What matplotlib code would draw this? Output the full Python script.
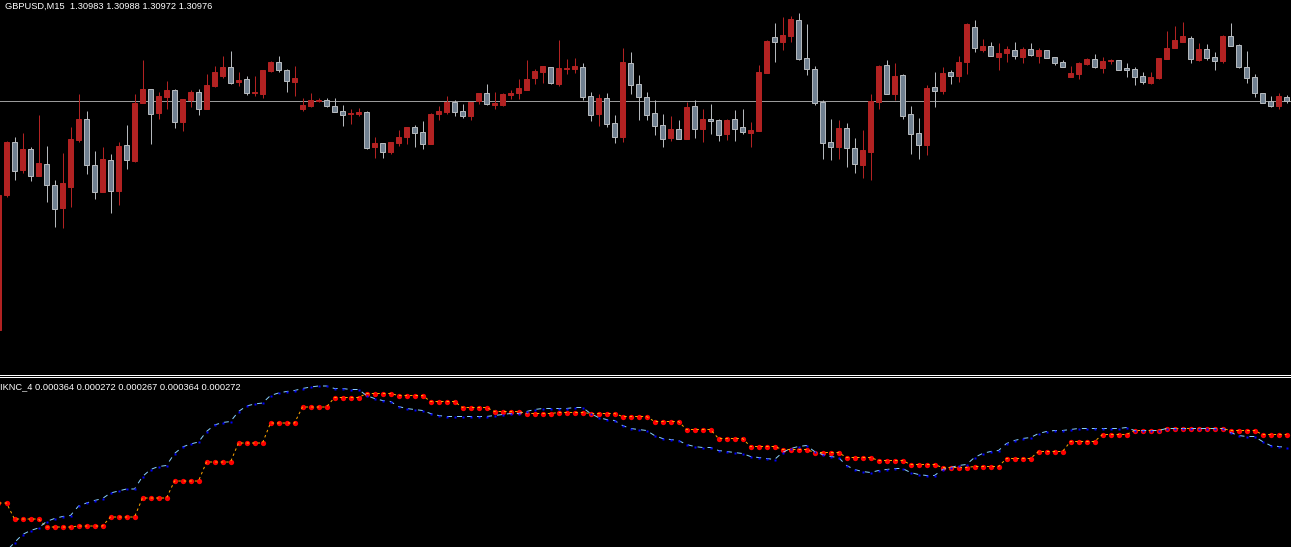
import matplotlib
matplotlib.use('Agg')
import matplotlib.pyplot as plt
from matplotlib.lines import Line2D
import numpy as np

# Свічки GBPUSD M15, ціни в пунктах (1 пункт = 0.00001)
opens = [130518, 130788, 130894, 130838, 130880, 130826, 130850, 130808, 130762, 130804,
         130898, 130940, 130848, 130794, 130858, 130796, 130888, 130856, 130972, 131000,
         130952, 130984, 130998, 130934, 130978, 130994, 130960, 131006, 131026, 131044,
         131014, 131020, 130992, 130990, 131036, 131054, 131038, 131014, 130960, 130966,
         130976, 130978, 130966, 130956, 130950, 130950, 130954, 130884, 130892, 130874,
         130892, 130904, 130924, 130914, 130890, 130950, 130954, 130974, 130956, 130946,
         130976, 130992, 130968, 130968, 130988, 130992, 130998, 131022, 131034, 131044,
         131010, 131040, 131040, 131044, 130986, 130950, 130982, 130932, 130904, 131052,
         131010, 130984, 130952, 130928, 130902, 130920, 130900, 130966, 130920, 130940,
         130938, 130910, 130940, 130924, 130912, 130916, 131032, 131104, 131094, 131106,
         131138, 131062, 131040, 130974, 130894, 130884, 130922, 130882, 130848, 130874,
         130974, 131048, 130990, 131028, 130950, 130912, 130888, 131004, 130996, 131034,
         131026, 131054, 131124, 131078, 131086, 131064, 131072, 131078, 131064, 131080,
         131066, 131078, 131064, 131054, 131024, 131030, 131050, 131060, 131042, 131056,
         131058, 131042, 131040, 131026, 131012, 131022, 131060, 131082, 131094, 131102,
         131058, 131080, 131064, 131056, 131106, 131088, 131044, 131024, 130992, 130976,
         130966, 130983]
highs = [130798, 130896, 130904, 130912, 130884, 130948, 130886, 130818, 130872, 130924,
         130990, 130956, 130876, 130884, 130870, 130894, 130928, 130990, 131058, 131000,
         130994, 131016, 131000, 130980, 130998, 131000, 131030, 131046, 131066, 131076,
         131034, 131026, 131026, 131038, 131056, 131066, 131040, 131046, 130982, 130992,
         130982, 130982, 130982, 130968, 130960, 130962, 130956, 130904, 130892, 130894,
         130918, 130924, 130928, 130936, 130952, 130966, 130986, 130978, 130970, 130974,
         130992, 131010, 130994, 130992, 130998, 131020, 131058, 131040, 131046, 131044,
         131098, 131060, 131062, 131052, 130994, 130990, 130992, 130948, 131082, 131074,
         131028, 130994, 130978, 130950, 130946, 130938, 130974, 130978, 130960, 130970,
         130940, 130940, 130958, 130960, 130934, 131048, 131098, 131132, 131144, 131146,
         131152, 131130, 131046, 130978, 130940, 130938, 130932, 130902, 130918, 130990,
         131048, 131058, 131052, 131030, 130966, 130942, 131008, 131034, 131044, 131038,
         131066, 131132, 131138, 131100, 131094, 131092, 131086, 131094, 131084, 131092,
         131082, 131078, 131064, 131058, 131046, 131054, 131062, 131070, 131064, 131060,
         131058, 131052, 131044, 131034, 131034, 131062, 131116, 131126, 131134, 131106,
         131092, 131090, 131074, 131108, 131132, 131090, 131076, 131030, 130992, 130986,
         130992, 130988]
lows = [130502, 130784, 130818, 130832, 130816, 130826, 130774, 130724, 130722, 130764,
        130894, 130830, 130780, 130794, 130752, 130768, 130840, 130854, 130972, 130890,
        130940, 130960, 130922, 130916, 130964, 130948, 130960, 131004, 131022, 131010,
        131006, 130988, 130986, 130982, 131034, 131034, 130994, 130986, 130956, 130964,
        130974, 130964, 130954, 130926, 130930, 130946, 130880, 130862, 130862, 130870,
        130886, 130890, 130884, 130880, 130890, 130938, 130950, 130946, 130942, 130938,
        130970, 130968, 130960, 130966, 130980, 130980, 130998, 131010, 131012, 131010,
        131006, 131030, 131032, 130978, 130936, 130926, 130924, 130892, 130894, 130990,
        130938, 130938, 130908, 130884, 130896, 130900, 130900, 130902, 130894, 130910,
        130896, 130898, 130896, 130910, 130884, 130916, 131032, 131054, 131078, 131094,
        131058, 131028, 130968, 130860, 130858, 130860, 130844, 130832, 130822, 130818,
        130960, 130990, 130978, 130940, 130870, 130860, 130868, 130964, 130990, 131010,
        131014, 131030, 131074, 131074, 131066, 131038, 131054, 131060, 131052, 131066,
        131052, 131062, 131048, 131044, 131024, 131020, 131048, 131042, 131032, 131050,
        131038, 131024, 131008, 131010, 131010, 131020, 131060, 131082, 131094, 131052,
        131056, 131058, 131038, 131052, 131086, 131042, 131012, 130984, 130972, 130964,
        130960, 130972]
closes = [130788, 130894, 130836, 130880, 130826, 130852, 130808, 130760, 130812, 130900,
          130940, 130848, 130794, 130860, 130796, 130886, 130858, 130972, 131000, 130950,
          130986, 130998, 130934, 130980, 130994, 130960, 131008, 131034, 131044, 131012,
          131018, 130992, 130994, 131038, 131054, 131038, 131016, 131022, 130968, 130978,
          130978, 130966, 130954, 130948, 130952, 130954, 130882, 130892, 130874, 130894,
          130904, 130924, 130912, 130890, 130950, 130956, 130974, 130954, 130946, 130974,
          130992, 130970, 130972, 130990, 130992, 131002, 131020, 131036, 131046, 131012,
          131042, 131042, 131046, 130984, 130948, 130982, 130930, 130904, 131054, 131008,
          130984, 130948, 130926, 130900, 130920, 130900, 130964, 130920, 130940, 130936,
          130908, 130938, 130920, 130914, 130918, 131034, 131096, 131094, 131108, 131140,
          131060, 131040, 130972, 130892, 130884, 130922, 130882, 130850, 130878, 130976,
          131046, 130990, 131026, 130946, 130910, 130888, 131002, 130996, 131032, 131026,
          131054, 131130, 131082, 131086, 131066, 131072, 131080, 131066, 131080, 131068,
          131078, 131062, 131052, 131044, 131032, 131052, 131060, 131044, 131056, 131058,
          131038, 131038, 131024, 131014, 131024, 131062, 131082, 131098, 131106, 131060,
          131080, 131062, 131056, 131106, 131086, 131044, 131022, 130992, 130972, 130966,
          130986, 130976]
bid = 130976

# Індикатор KNC_4, значення в мільйонних частках
knc_red = [135, 135, 103, 103, 103, 103, 87, 87, 87, 87,
           89, 89, 89, 89, 107, 107, 107, 107, 145, 145,
           145, 145, 179, 179, 179, 179, 217, 217, 217, 217,
           255, 255, 255, 255, 295, 295, 295, 295, 327, 327,
           327, 327, 346, 346, 346, 346, 354, 354, 354, 354,
           350, 350, 350, 350, 338, 338, 338, 338, 326, 326,
           326, 326, 318, 318, 318, 318, 314, 314, 314, 314,
           316, 316, 316, 316, 314, 314, 314, 314, 308, 308,
           308, 308, 298, 298, 298, 298, 282, 282, 282, 282,
           264, 264, 264, 264, 248, 248, 248, 248, 242, 242,
           242, 242, 236, 236, 236, 236, 226, 226, 226, 226,
           220, 220, 220, 220, 212, 212, 212, 212, 206, 206,
           206, 206, 208, 208, 208, 208, 224, 224, 224, 224,
           238, 238, 238, 238, 258, 258, 258, 258, 272, 272,
           272, 272, 280, 280, 280, 280, 284, 284, 284, 284,
           284, 284, 284, 284, 280, 280, 280, 280, 272, 272,
           272, 272]
knc_blue = [29, 39, 56, 72, 80, 85, 98, 104, 108, 110,
            129, 135, 140, 144, 155, 159, 163, 163, 188, 202,
            208, 210, 234, 247, 253, 257, 278, 291, 296, 298,
            318, 329, 333, 335, 350, 355, 358, 360, 364, 367,
            369, 369, 364, 364, 362, 362, 350, 344, 340, 338,
            328, 324, 322, 320, 314, 310, 308, 308, 308, 308,
            308, 308, 310, 312, 314, 314, 318, 322, 324, 324,
            324, 324, 326, 326, 314, 306, 302, 300, 290, 284,
            282, 280, 270, 264, 262, 260, 252, 248, 246, 246,
            240, 238, 236, 234, 228, 226, 224, 222, 236, 244,
            248, 250, 238, 232, 228, 226, 210, 202, 198, 196,
            200, 202, 204, 204, 196, 192, 190, 190, 202, 206,
            210, 212, 226, 234, 238, 240, 254, 260, 264, 266,
            274, 278, 280, 280, 282, 284, 284, 284, 284, 284,
            284, 286, 280, 280, 280, 280, 284, 284, 284, 284,
            284, 284, 284, 284, 276, 270, 268, 268, 258, 250,
            248, 246]

title_text = 'GBPUSD,M15  1.30983 1.30988 1.30972 1.30976'
knc_text = 'IKNC_4 0.000364 0.000272 0.000267 0.000364 0.000272'

W, H = 1291, 547
px = 0.72  # 1 піксель у пунктах

o = np.array(opens) / 1e5
h = np.array(highs) / 1e5
l = np.array(lows) / 1e5
c = np.array(closes) / 1e5
x = np.arange(len(o))
up = c > o

fig = plt.figure(figsize=(W / 100, H / 100), dpi=100, facecolor='black')
ax = fig.add_axes([0, 175 / H, 1, 372 / H])
ax2 = fig.add_axes([0, 0, 1, 170 / H])
for a in (ax, ax2):
    a.set_facecolor('black')
    a.set_xlim(0.1875, 0.1875 + W / 8)
    a.set_axis_off()

ax.set_ylim(130434 / 1e5, 131178 / 1e5)
ax2.set_ylim(47e-6, 387e-6)

# Лінія Bid
ax.axhline(bid / 1e5, color='#9a9a9a', lw=px, zorder=1)

red = '#b22222'
body_gray = '#708090'
edge_gray = '#b4b8bc'

# Тіні свічок
wick_cols = [red if u else edge_gray for u in up]
ax.vlines(x, l, h, colors=wick_cols, lw=px, zorder=2)

# Тіла свічок
bottoms = np.minimum(o, c)
heights = np.abs(c - o)
ax.bar(x[up], heights[up], bottom=bottoms[up], width=0.58,
       color=red, edgecolor=red, lw=px, zorder=3)
ax.bar(x[~up], heights[~up], bottom=bottoms[~up], width=0.58,
       color=body_gray, edgecolor=edge_gray, lw=px, zorder=3)

# Індикатор
r = np.array(knc_red) * 1e-6
b = np.array(knc_blue) * 1e-6
ax2.plot(x, r, ls='none', marker='o', ms=3.8, color='#ff0000', mec='none', zorder=2)
ax2.plot(x, r, color='#ffa500', lw=px, dashes=(2.5, 3), zorder=3)
ax2.plot(x, b, color='#87cefa', lw=px, dashes=(5, 5), zorder=4)
ax2.plot(x, b, ls='none', marker='s', ms=2.0, color='#0000ff', mec='none', zorder=5)

# Роздільник вікон
for yy in (374.5, 376.5):
    fig.add_artist(Line2D([0, 1], [1 - yy / H, 1 - yy / H], transform=fig.transFigure,
                          color='white', lw=px))

fig.text(5 / W, 1 - 8.5 / H, title_text, color='white', fontsize=6.7,
         family='Liberation Sans', va='baseline')
fig.text(0, 1 - 389.5 / H, knc_text, color='white', fontsize=6.7,
         family='Liberation Sans', va='baseline')

fig.savefig('out.png', dpi=100, facecolor='black')
